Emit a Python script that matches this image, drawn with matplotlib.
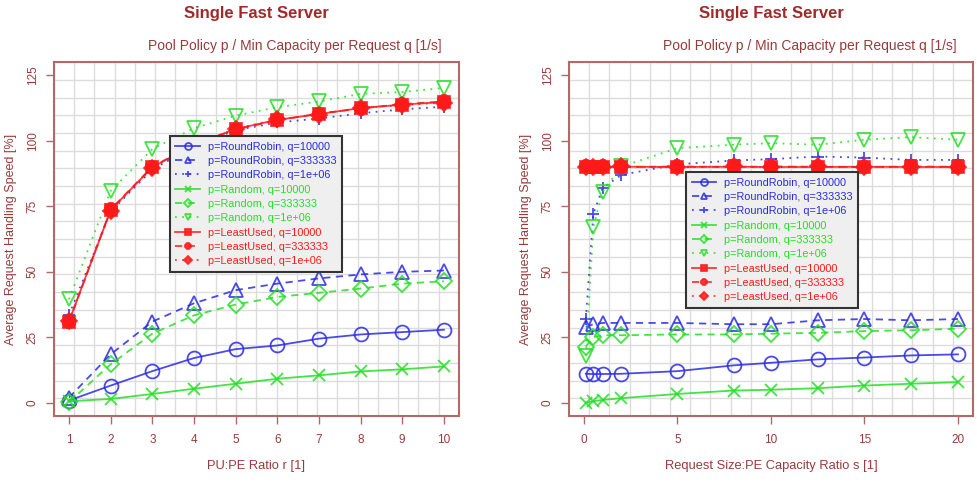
import numpy as np
import matplotlib
matplotlib.use("Agg")
import matplotlib.pyplot as plt

plt.rcParams["font.family"] = ["Liberation Sans", "DejaVu Sans"]

# left panel: PU:PE ratio r
r_values = [1, 2, 3, 4, 5, 6, 7, 8, 9, 10]
left_rr_10000 = [0.9, 6.6, 12.1, 17.1, 20.5, 21.9, 24.5, 26.1, 27.0, 27.9]
left_rr_333333 = [2.0, 18.5, 31.0, 38.0, 43.0, 45.5, 47.5, 49.0, 50.0, 50.5]
left_rr_1e6 = [33.5, 73.0, 89.0, 98.0, 104.0, 107.0, 108.5, 110.5, 112.0, 113.0]
left_rand_10000 = [0.6, 1.5, 3.4, 5.4, 7.3, 9.2, 10.5, 12.0, 12.8, 13.9]
left_rand_333333 = [0.3, 14.7, 26.4, 33.4, 37.5, 40.4, 42.0, 43.6, 45.5, 46.4]
left_rand_1e6 = [39.5, 80.9, 96.8, 104.8, 109.6, 112.8, 115.0, 117.9, 118.6, 120.2]
left_lu_10000 = [31.0, 73.6, 89.9, 98.5, 104.5, 108.0, 110.2, 112.5, 113.8, 114.8]
left_lu_333333 = [30.8, 73.8, 90.1, 98.6, 104.3, 107.8, 110.4, 112.3, 114.0, 115.0]
left_lu_1e6 = [31.2, 73.4, 89.7, 98.4, 104.6, 108.2, 110.0, 112.6, 113.6, 114.6]

# right panel: request size : PE capacity ratio s
s_values = [0.1, 0.5, 1, 2, 5, 8, 10, 12.5, 15, 17.5, 20]
right_rr_10000 = [11.1, 11.0, 11.0, 11.1, 12.1, 14.3, 15.3, 16.6, 17.3, 18.1, 18.5]
right_rr_333333 = [29.0, 30.0, 30.5, 30.5, 30.5, 30.0, 30.0, 31.5, 32.0, 31.5, 32.0]
right_rr_1e6 = [32.0, 72.0, 82.0, 87.0, 91.0, 92.5, 93.0, 94.0, 93.6, 92.7, 92.7]
right_rand_10000 = [0.0, 0.6, 1.1, 1.8, 3.4, 4.7, 5.0, 5.6, 6.6, 7.3, 7.9]
right_rand_333333 = [21.5, 25.1, 25.8, 25.8, 26.1, 26.1, 26.4, 26.7, 27.4, 27.7, 28.3]
right_rand_1e6 = [18.0, 67.2, 80.6, 90.2, 97.2, 98.5, 99.1, 98.5, 100.4, 101.4, 100.4]
right_lu_10000 = [90.0, 90.0, 90.0, 90.1, 90.0, 90.1, 90.0, 90.0, 90.1, 90.0, 90.0]
right_lu_333333 = [90.2, 90.1, 90.2, 90.0, 90.2, 90.0, 90.2, 90.1, 90.0, 90.2, 90.1]
right_lu_1e6 = [89.9, 90.0, 89.9, 90.2, 89.9, 90.2, 89.9, 90.2, 89.9, 90.1, 89.9]

labels = [
    "p=RoundRobin, q=10000", "p=RoundRobin, q=333333", "p=RoundRobin, q=1e+06",
    "p=Random, q=10000", "p=Random, q=333333", "p=Random, q=1e+06",
    "p=LeastUsed, q=10000", "p=LeastUsed, q=333333", "p=LeastUsed, q=1e+06",
]

BLUE = "#2a2ae6"
GREEN = "#22e022"
RED = "#ff1a1a"
FRAME = "#b06a6a"
TEXT = "#9a3a3a"
TITLE = "#a02a2a"

# colour, linestyle, marker, filled
styles = [
    (BLUE, "-", "o", False), (BLUE, (0, (4, 3)), "^", False), (BLUE, (0, (1, 3)), "+", False),
    (GREEN, "-", "x", False), (GREEN, (0, (4, 3)), "D", False), (GREEN, (0, (1, 3)), "v", False),
    (RED, "-", "s", True), (RED, (0, (4, 3)), "8", True), (RED, (0, (1, 3)), "D", True),
]

fig = plt.figure(figsize=(9.78, 4.82), dpi=100)
ax1 = fig.add_axes([0.0552, 0.137, 0.414, 0.734])
ax2 = fig.add_axes([0.5818, 0.137, 0.413, 0.734])


def draw_panel(ax, xs, series, xlim, xticks, xlabel, legend_anchor):
    ax.set_xlim(*xlim)
    ax.set_ylim(-5, 130)
    # 20 x 20 background grid
    ax.set_xticks(np.linspace(xlim[0], xlim[1], 21), minor=True)
    ax.set_yticks(np.linspace(-5, 130, 21), minor=True)
    ax.grid(True, which="minor", color="#dcdcdc", linewidth=1.0)
    ax.tick_params(which="minor", length=0)
    ax.set_axisbelow(True)

    handles = []
    for ys, lab, (col, ls, mk, filled) in zip(series, labels, styles):
        ms = 10 if mk in ("o", "^", "v") else 9
        if mk == "D":
            ms = 8
        line, = ax.plot(xs, ys, color=col, linestyle=ls, linewidth=1.3,
                        marker=mk, markersize=ms,
                        markerfacecolor=col if filled else "none",
                        markeredgecolor=col, markeredgewidth=1.3,
                        alpha=0.85, label=lab)
        handles.append(line)

    ax.set_xticks(xticks)
    ax.set_yticks([0, 25, 50, 75, 100, 125])
    ax.tick_params(axis="both", which="major", direction="out", length=6,
                   color=FRAME, labelcolor=TEXT, labelsize=8.5, width=1)
    ax.tick_params(axis="x", pad=7)
    ax.tick_params(axis="y", pad=5)
    for lab in ax.get_yticklabels():
        lab.set_rotation(90)
        lab.set_va("center")
    for sp in ax.spines.values():
        sp.set_color(FRAME)
        sp.set_linewidth(1.5)

    ax.set_xlabel(xlabel, color=TEXT, fontsize=9.3, labelpad=10)
    ax.set_ylabel("Average Request Handling Speed [%]", color=TEXT,
                  fontsize=9, labelpad=7)
    ax.text(0.595, 1.025, "Pool Policy p / Min Capacity per Request q [1/s]",
            transform=ax.transAxes, ha="center", va="bottom", color=TEXT,
            fontsize=10)
    ax.text(0.5, 1.115, "Single Fast Server", transform=ax.transAxes,
            ha="center", va="bottom", color=TITLE, fontsize=12,
            fontweight="bold")

    leg = ax.legend(handles=handles, loc="upper left",
                    bbox_to_anchor=legend_anchor, borderaxespad=0,
                    fontsize=7.8, markerscale=0.5, handlelength=2.3,
                    handletextpad=0.7, labelspacing=0.4, borderpad=0.5,
                    fancybox=False, framealpha=1.0)
    leg.get_frame().set_facecolor("#efefef")
    leg.get_frame().set_edgecolor("#333333")
    leg.get_frame().set_linewidth(1.5)
    for txt, (col, _, _, _) in zip(leg.get_texts(), styles):
        txt.set_color(col)


draw_panel(ax1, r_values,
           [left_rr_10000, left_rr_333333, left_rr_1e6,
            left_rand_10000, left_rand_333333, left_rand_1e6,
            left_lu_10000, left_lu_333333, left_lu_1e6],
           (0.64, 10.36), list(range(1, 11)), "PU:PE Ratio r [1]",
           (0.286, 0.791))

draw_panel(ax2, s_values,
           [right_rr_10000, right_rr_333333, right_rr_1e6,
            right_rand_10000, right_rand_333333, right_rand_1e6,
            right_lu_10000, right_lu_333333, right_lu_1e6],
           (-0.8, 20.8), [0, 5, 10, 15, 20],
           "Request Size:PE Capacity Ratio s [1]", (0.29, 0.689))

fig.savefig("out.png", dpi=100)
